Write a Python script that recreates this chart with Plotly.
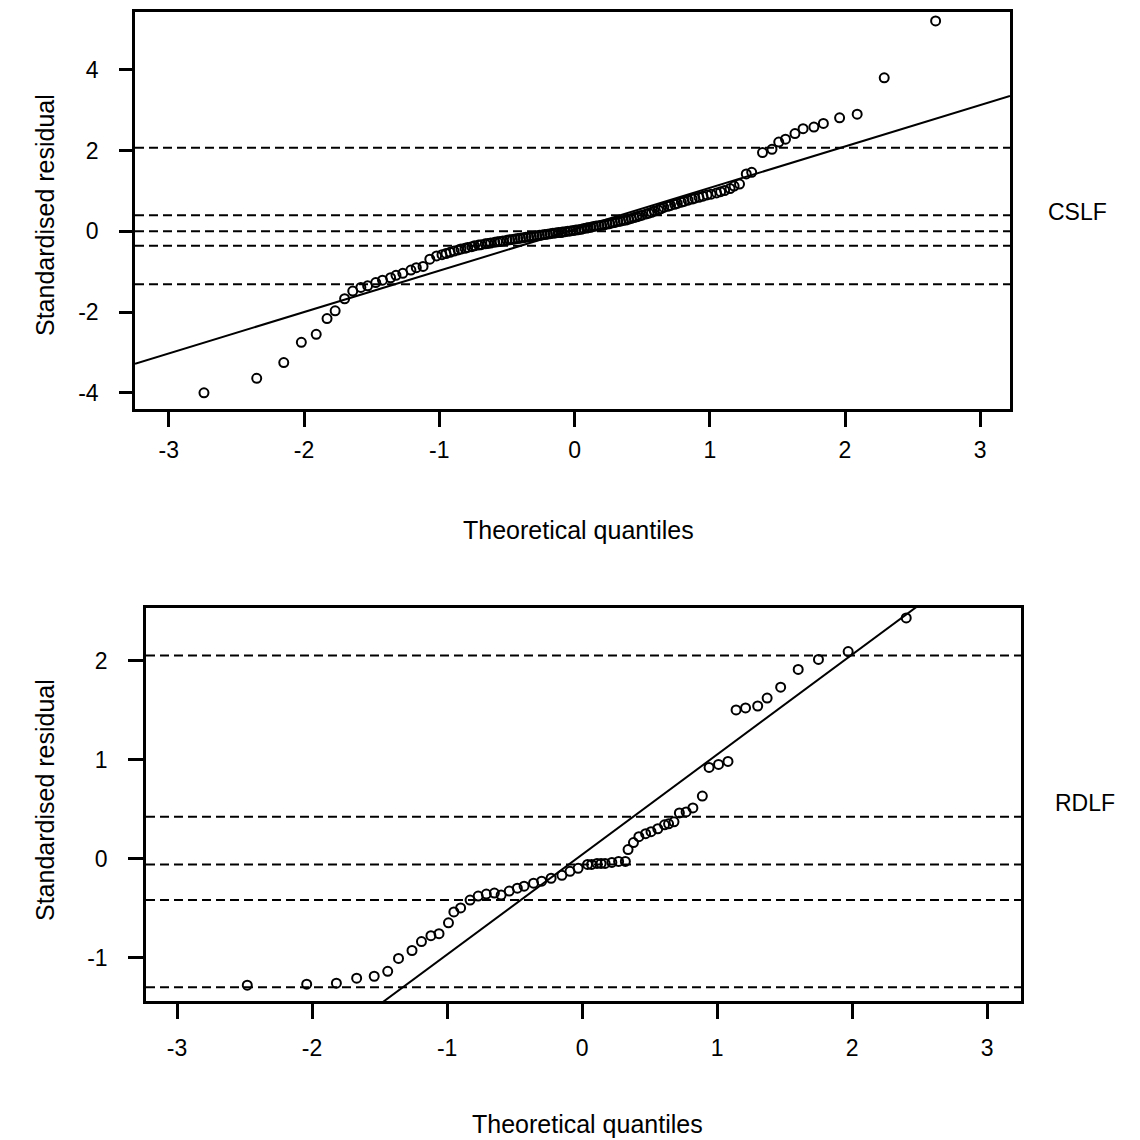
import plotly.graph_objects as go

# ---------------- data: CSLF (top panel) ----------------
cslf_q = [-2.74, -2.35, -2.15, -2.02, -1.91, -1.83, -1.77, -1.70, -1.64, -1.58,
          -1.53, -1.47, -1.42, -1.36, -1.32, -1.27, -1.21, -1.17, -1.12, -1.07,
          -1.02,
          -0.98, -0.95, -0.92, -0.89, -0.86, -0.84, -0.81, -0.79, -0.76, -0.74,
          -0.71, -0.69, -0.66, -0.64, -0.62, -0.59, -0.57, -0.55, -0.53, -0.50,
          -0.48, -0.46, -0.44, -0.42, -0.40, -0.38, -0.36, -0.34, -0.32, -0.30,
          -0.28, -0.26, -0.24, -0.22, -0.20, -0.18, -0.16, -0.14, -0.12, -0.10,
          -0.09, -0.07, -0.05, -0.03, -0.01, 0.01, 0.03, 0.05, 0.07, 0.09,
          0.10, 0.12, 0.14, 0.16, 0.18, 0.20, 0.22, 0.24, 0.26, 0.28,
          0.30, 0.32, 0.34, 0.36, 0.38, 0.40, 0.42, 0.44, 0.46, 0.48,
          0.50, 0.53, 0.55, 0.57, 0.59, 0.62, 0.64, 0.66, 0.69, 0.71,
          0.74, 0.76, 0.79, 0.81, 0.84, 0.87, 0.89, 0.92, 0.95, 0.98,
          1.01, 1.05, 1.08, 1.11, 1.15, 1.18, 1.22, 1.27, 1.31,
          1.39, 1.46, 1.51, 1.56, 1.63, 1.69, 1.77, 1.84, 1.96, 2.09,
          2.29, 2.67]
cslf_res = [-4.00, -3.64, -3.25, -2.75, -2.55, -2.16, -1.97, -1.67, -1.48, -1.39,
            -1.35, -1.27, -1.21, -1.15, -1.09, -1.04, -0.96, -0.90, -0.87, -0.69,
            -0.61,
            -0.58, -0.55, -0.52, -0.49, -0.46, -0.44, -0.42, -0.40, -0.38, -0.36,
            -0.34, -0.33, -0.31, -0.30, -0.29, -0.27, -0.26, -0.25, -0.24, -0.22,
            -0.21, -0.20, -0.19, -0.18, -0.17, -0.16, -0.15, -0.14, -0.13, -0.12,
            -0.11, -0.10, -0.09, -0.08, -0.07, -0.06, -0.05, -0.04, -0.03, -0.03,
            -0.02, -0.01, 0.00, 0.01, 0.02, 0.03, 0.04, 0.05, 0.07, 0.08,
            0.09, 0.10, 0.12, 0.13, 0.14, 0.15, 0.16, 0.18, 0.19, 0.21,
            0.22, 0.24, 0.25, 0.27, 0.28, 0.30, 0.32, 0.34, 0.36, 0.38,
            0.40, 0.43, 0.45, 0.47, 0.50, 0.53, 0.56, 0.59, 0.62, 0.64,
            0.67, 0.69, 0.72, 0.74, 0.77, 0.80, 0.82, 0.84, 0.87, 0.90,
            0.92, 0.95, 0.98, 1.01, 1.06, 1.12, 1.17, 1.42, 1.46,
            1.95, 2.03, 2.21, 2.28, 2.42, 2.54, 2.58, 2.67, 2.81, 2.90,
            3.80, 5.21]
cslf_dashed = [2.07, 0.40, 0.0, -0.36, -1.31]
cslf_line = {"intercept": 0.05, "slope": 1.025}

# ---------------- data: RDLF (bottom panel) ----------------
rdlf_q = [-2.48, -2.04, -1.82, -1.67, -1.54, -1.44, -1.36, -1.26, -1.19, -1.12,
          -1.06, -0.99, -0.95, -0.90, -0.83, -0.77, -0.71, -0.65, -0.60, -0.54,
          -0.48, -0.43, -0.36, -0.30, -0.23, -0.15, -0.09, -0.03, 0.04, 0.07,
          0.11, 0.14, 0.17, 0.22, 0.27, 0.32, 0.34, 0.38, 0.42, 0.47,
          0.51, 0.56, 0.61, 0.64, 0.68, 0.72, 0.77, 0.82, 0.89, 0.94,
          1.01, 1.08, 1.14, 1.21, 1.30, 1.37, 1.47, 1.60, 1.75, 1.97,
          2.40]
rdlf_res = [-1.28, -1.27, -1.26, -1.21, -1.19, -1.14, -1.01, -0.93, -0.84, -0.78,
            -0.76, -0.65, -0.54, -0.50, -0.42, -0.38, -0.36, -0.35, -0.37, -0.33,
            -0.30, -0.28, -0.25, -0.23, -0.20, -0.17, -0.13, -0.10, -0.06, -0.06,
            -0.05, -0.05, -0.05, -0.04, -0.03, -0.03, 0.09, 0.16, 0.22, 0.25,
            0.27, 0.30, 0.34, 0.35, 0.37, 0.46, 0.47, 0.51, 0.63, 0.92,
            0.95, 0.98, 1.50, 1.52, 1.54, 1.62, 1.73, 1.91, 2.01, 2.09,
            2.43]
rdlf_dashed = [2.05, 0.42, -0.06, -0.42, -1.30]
rdlf_line = {"intercept": 0.04, "slope": 1.01}

# tick values / labels (plain hyphen minus, as in the original)
x_ticks = [-3, -2, -1, 0, 1, 2, 3]
x_ticklabels = ["-3", "-2", "-1", "0", "1", "2", "3"]
cslf_yticks = [-4, -2, 0, 2, 4]
cslf_yticklabels = ["-4", "-2", "0", "2", "4"]
rdlf_yticks = [-1, 0, 1, 2]
rdlf_yticklabels = ["-1", "0", "1", "2"]

# axis ranges
cslf_xrange = [-3.25, 3.22]
cslf_yrange = [-4.40, 5.43]
rdlf_xrange = [-3.23, 3.25]
rdlf_yrange = [-1.44, 2.53]

W = H = 1140
FONT = "Liberation Sans, Arial, Helvetica, sans-serif"


def px_x(p):
    return p / W


def px_y(p):
    return 1 - p / H


fig = go.Figure()

panels = [
    ("x", "y", cslf_q, cslf_res, cslf_line, cslf_xrange),
    ("x2", "y2", rdlf_q, rdlf_res, rdlf_line, rdlf_xrange),
]
for xa, ya, q, r, ln, xr in panels:
    lx = [xr[0], xr[1]]
    ly = [ln["intercept"] + ln["slope"] * v for v in lx]
    fig.add_trace(go.Scatter(x=lx, y=ly, mode="lines", xaxis=xa, yaxis=ya,
                             line=dict(color="black", width=2), hoverinfo="skip"))
    fig.add_trace(go.Scatter(x=q, y=r, mode="markers", xaxis=xa, yaxis=ya,
                             marker=dict(symbol="circle-open", size=9,
                                         color="black", line=dict(width=2))))

for v in cslf_dashed:
    fig.add_shape(type="line", xref="x domain", yref="y", x0=0, x1=1, y0=v, y1=v,
                  line=dict(color="black", width=2, dash="9px,5px"), layer="below")
for v in rdlf_dashed:
    fig.add_shape(type="line", xref="x2 domain", yref="y2", x0=0, x1=1, y0=v, y1=v,
                  line=dict(color="black", width=2, dash="9px,5px"), layer="below")

axis_common = dict(showline=True, linecolor="black", linewidth=2.5, mirror=True,
                   ticks="outside", tickcolor="black", tickwidth=2.5,
                   showgrid=False, zeroline=False,
                   tickfont=dict(family=FONT, size=23, color="black"))

fig.update_layout(
    width=W, height=H,
    margin=dict(l=0, r=0, t=0, b=0),
    paper_bgcolor="white", plot_bgcolor="white",
    showlegend=False,
    xaxis=dict(domain=[px_x(135), px_x(1010)], range=cslf_xrange, anchor="y",
               tickvals=x_ticks, ticktext=x_ticklabels,
               ticklen=15, ticklabelstandoff=4, **axis_common),
    yaxis=dict(domain=[px_y(409), px_y(12)], range=cslf_yrange, anchor="x",
               tickvals=cslf_yticks, ticktext=cslf_yticklabels,
               ticklen=13, ticklabelstandoff=16, **axis_common),
    xaxis2=dict(domain=[px_x(146), px_x(1021)], range=rdlf_xrange, anchor="y2",
                tickvals=x_ticks, ticktext=x_ticklabels,
                ticklen=15, ticklabelstandoff=10, **axis_common),
    yaxis2=dict(domain=[px_y(1001), px_y(608)], range=rdlf_yrange, anchor="x2",
                tickvals=rdlf_yticks, ticktext=rdlf_yticklabels,
                ticklen=15, ticklabelstandoff=16, **axis_common),
)

labels = [
    ("Theoretical quantiles", 578, 530, 0, 25),
    ("Theoretical quantiles", 587, 1124, 0, 25),
    ("Standardised residual", 45, 215, -90, 25),
    ("Standardised residual", 45, 800, -90, 25),
    ("CSLF", 1077, 212, 0, 23),
    ("RDLF", 1085, 803, 0, 23),
]
for text, x, y, ang, fs in labels:
    fig.add_annotation(text=text, x=px_x(x), y=px_y(y), xref="paper", yref="paper",
                       showarrow=False, textangle=ang, xanchor="center", yanchor="middle",
                       font=dict(family=FONT, size=fs, color="black"))

fig.write_html("out.html")
